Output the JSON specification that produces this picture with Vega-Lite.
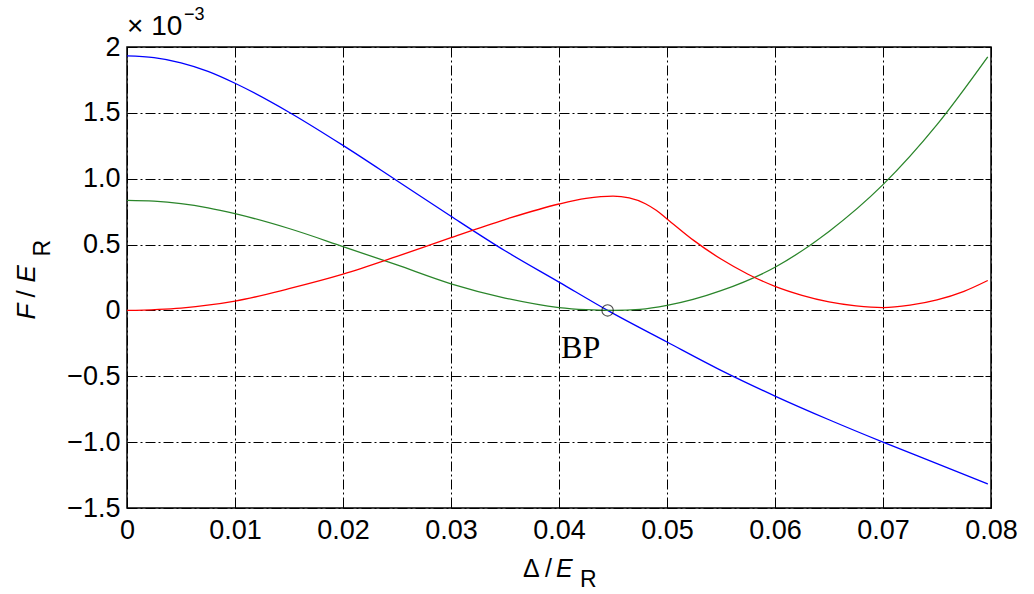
{
  "$schema": "https://vega.github.io/schema/vega-lite/v6.json",
  "width": 864,
  "height": 461,
  "autosize": {"type": "none"},
  "padding": {"left": 127, "top": 47, "right": 43, "bottom": 86},
  "background": "white",
  "config": {
    "view": {"stroke": "black", "strokeWidth": 1.5},
    "font": "Liberation Sans"
  },
  "datasets": {
    "curves": [
      {"s": "a", "d": 0, "v": 1.932},
      {"s": "a", "d": 0.0025, "v": 1.919},
      {"s": "a", "d": 0.005, "v": 1.88},
      {"s": "a", "d": 0.0075, "v": 1.815},
      {"s": "a", "d": 0.01, "v": 1.725},
      {"s": "a", "d": 0.015, "v": 1.505},
      {"s": "a", "d": 0.02, "v": 1.253},
      {"s": "a", "d": 0.025, "v": 0.985},
      {"s": "a", "d": 0.03, "v": 0.715},
      {"s": "a", "d": 0.035, "v": 0.453},
      {"s": "a", "d": 0.04, "v": 0.215},
      {"s": "a", "d": 0.0445, "v": 0.0},
      {"s": "a", "d": 0.05, "v": -0.24},
      {"s": "a", "d": 0.055, "v": -0.455},
      {"s": "a", "d": 0.06, "v": -0.65},
      {"s": "a", "d": 0.065, "v": -0.83},
      {"s": "a", "d": 0.07, "v": -1.0},
      {"s": "a", "d": 0.075, "v": -1.163},
      {"s": "a", "d": 0.0797, "v": -1.318},
      {"s": "b", "d": 0, "v": 0.836},
      {"s": "b", "d": 0.0025, "v": 0.83},
      {"s": "b", "d": 0.005, "v": 0.811},
      {"s": "b", "d": 0.0075, "v": 0.779},
      {"s": "b", "d": 0.01, "v": 0.735},
      {"s": "b", "d": 0.015, "v": 0.622},
      {"s": "b", "d": 0.02, "v": 0.485},
      {"s": "b", "d": 0.025, "v": 0.345},
      {"s": "b", "d": 0.03, "v": 0.202},
      {"s": "b", "d": 0.035, "v": 0.094},
      {"s": "b", "d": 0.04, "v": 0.022},
      {"s": "b", "d": 0.0425, "v": 0.006},
      {"s": "b", "d": 0.045, "v": 0.0},
      {"s": "b", "d": 0.0475, "v": 0.008},
      {"s": "b", "d": 0.05, "v": 0.038},
      {"s": "b", "d": 0.055, "v": 0.15},
      {"s": "b", "d": 0.06, "v": 0.328},
      {"s": "b", "d": 0.065, "v": 0.6},
      {"s": "b", "d": 0.07, "v": 0.955},
      {"s": "b", "d": 0.075, "v": 1.41},
      {"s": "b", "d": 0.0797, "v": 1.925},
      {"s": "c", "d": 0, "v": 0.0},
      {"s": "c", "d": 0.005, "v": 0.018},
      {"s": "c", "d": 0.01, "v": 0.07},
      {"s": "c", "d": 0.015, "v": 0.165},
      {"s": "c", "d": 0.02, "v": 0.275},
      {"s": "c", "d": 0.025, "v": 0.41},
      {"s": "c", "d": 0.03, "v": 0.553},
      {"s": "c", "d": 0.035, "v": 0.69},
      {"s": "c", "d": 0.04, "v": 0.808},
      {"s": "c", "d": 0.0425, "v": 0.85},
      {"s": "c", "d": 0.045, "v": 0.868},
      {"s": "c", "d": 0.0465, "v": 0.855},
      {"s": "c", "d": 0.048, "v": 0.81},
      {"s": "c", "d": 0.049, "v": 0.76},
      {"s": "c", "d": 0.05, "v": 0.695},
      {"s": "c", "d": 0.0525, "v": 0.53},
      {"s": "c", "d": 0.055, "v": 0.39},
      {"s": "c", "d": 0.0575, "v": 0.275},
      {"s": "c", "d": 0.06, "v": 0.183},
      {"s": "c", "d": 0.0625, "v": 0.115},
      {"s": "c", "d": 0.065, "v": 0.065},
      {"s": "c", "d": 0.0675, "v": 0.035},
      {"s": "c", "d": 0.07, "v": 0.022},
      {"s": "c", "d": 0.0725, "v": 0.04},
      {"s": "c", "d": 0.075, "v": 0.08},
      {"s": "c", "d": 0.0775, "v": 0.145},
      {"s": "c", "d": 0.0797, "v": 0.227}
    ],
    "bp": [{"d": 0.0445, "v": 0, "label": "BP"}],
    "corner": [{"d": 0, "v": 2, "base": "× 10", "exp": "−3"}],
    "ytitle": [{"d": 0, "v": 0, "f": "F", "sl": "/", "e": "E", "r": "R"}],
    "xtitle": [{"d": 0.04, "v": -1.5, "f": "Δ", "sl": "/", "e": "E", "r": "R"}]
  },
  "layer": [
    {
      "data": {"name": "curves"},
      "mark": {"type": "line", "strokeWidth": 1.3, "interpolate": "monotone", "clip": false},
      "encoding": {
        "x": {
          "field": "d", "type": "quantitative",
          "scale": {"domain": [0, 0.08], "nice": false, "zero": false},
          "axis": {
            "orient": "bottom", "title": null, "domain": false,
            "values": [0, 0.01, 0.02, 0.03, 0.04, 0.05, 0.06, 0.07, 0.08],
            "labelExpr": "datum.value == 0 ? '0' : format(datum.value, '.2f')",
            "labelFontSize": 27, "labelColor": "black", "labelPadding": 15,
            "labelFlush": false,
            "tickSize": -6, "tickColor": "black", "tickWidth": 1,
            "grid": true, "gridColor": "black", "gridOpacity": 1, "gridWidth": 1,
            "gridDash": [10, 3, 2, 3]
          }
        },
        "y": {
          "field": "v", "type": "quantitative",
          "scale": {"domain": [-1.5, 2], "nice": false, "zero": false},
          "axis": {
            "orient": "left", "title": null, "domain": false,
            "values": [-1.5, -1, -0.5, 0, 0.5, 1, 1.5, 2],
            "labelExpr": "datum.value == 0 ? '0' : datum.value == 2 ? '2' : format(datum.value, '.1f')",
            "labelFontSize": 27, "labelColor": "black", "labelPadding": 13,
            "labelFlush": false,
            "tickSize": -6, "tickColor": "black", "tickWidth": 1,
            "grid": true, "gridColor": "black", "gridOpacity": 1, "gridWidth": 1,
            "gridDash": [10, 3, 2, 3]
          }
        },
        "color": {
          "field": "s", "type": "nominal",
          "scale": {"domain": ["a", "b", "c"], "range": ["#0000ff", "#2a852a", "#ff0000"]},
          "legend": null
        }
      }
    },
    {
      "data": {"name": "bp"},
      "mark": {"type": "point", "shape": "circle", "filled": false, "size": 130, "stroke": "black", "strokeWidth": 1.1},
      "encoding": {
        "x": {
          "field": "d", "type": "quantitative",
          "scale": {"domain": [0, 0.08], "nice": false, "zero": false},
          "axis": {
            "orient": "top", "title": null, "domain": false, "labels": false, "grid": false,
            "values": [0, 0.01, 0.02, 0.03, 0.04, 0.05, 0.06, 0.07, 0.08],
            "tickSize": -6, "tickColor": "black", "tickWidth": 1
          }
        },
        "y": {
          "field": "v", "type": "quantitative",
          "scale": {"domain": [-1.5, 2], "nice": false, "zero": false},
          "axis": {
            "orient": "right", "title": null, "domain": false, "labels": false, "grid": false,
            "values": [-1.5, -1, -0.5, 0, 0.5, 1, 1.5, 2],
            "tickSize": -6, "tickColor": "black", "tickWidth": 1
          }
        }
      }
    },
    {
      "data": {"name": "bp"},
      "mark": {"type": "text", "font": "Liberation Serif", "fontSize": 32, "align": "center", "baseline": "alphabetic", "dx": -27, "dy": 48, "color": "black"},
      "encoding": {
        "x": {"field": "d", "type": "quantitative", "scale": {"domain": [0, 0.08], "nice": false, "zero": false}, "axis": null},
        "y": {"field": "v", "type": "quantitative", "scale": {"domain": [-1.5, 2], "nice": false, "zero": false}, "axis": null},
        "text": {"field": "label"}
      }
    },
    {
      "data": {"name": "corner"},
      "mark": {"type": "text", "fontSize": 28, "align": "left", "baseline": "alphabetic", "dx": 0, "dy": -12, "color": "black"},
      "encoding": {
        "x": {"field": "d", "type": "quantitative", "scale": {"domain": [0, 0.08], "nice": false, "zero": false}, "axis": null},
        "y": {"field": "v", "type": "quantitative", "scale": {"domain": [-1.5, 2], "nice": false, "zero": false}, "axis": null},
        "text": {"field": "base"}
      }
    },
    {
      "data": {"name": "corner"},
      "mark": {"type": "text", "fontSize": 18, "align": "left", "baseline": "alphabetic", "dx": 57, "dy": -27, "color": "black"},
      "encoding": {
        "x": {"field": "d", "type": "quantitative", "scale": {"domain": [0, 0.08], "nice": false, "zero": false}, "axis": null},
        "y": {"field": "v", "type": "quantitative", "scale": {"domain": [-1.5, 2], "nice": false, "zero": false}, "axis": null},
        "text": {"field": "exp"}
      }
    },
    {
      "data": {"name": "ytitle"},
      "mark": {"type": "text", "fontSize": 26, "fontStyle": "italic", "angle": 270, "align": "left", "baseline": "alphabetic", "dx": -9, "dy": -92, "color": "black"},
      "encoding": {
        "x": {"field": "d", "type": "quantitative", "scale": {"domain": [0, 0.08], "nice": false, "zero": false}, "axis": null},
        "y": {"field": "v", "type": "quantitative", "scale": {"domain": [-1.5, 2], "nice": false, "zero": false}, "axis": null},
        "text": {"field": "f"}
      }
    },
    {
      "data": {"name": "ytitle"},
      "mark": {"type": "text", "fontSize": 26, "angle": 270, "align": "left", "baseline": "alphabetic", "dx": 13, "dy": -92, "color": "black"},
      "encoding": {
        "x": {"field": "d", "type": "quantitative", "scale": {"domain": [0, 0.08], "nice": false, "zero": false}, "axis": null},
        "y": {"field": "v", "type": "quantitative", "scale": {"domain": [-1.5, 2], "nice": false, "zero": false}, "axis": null},
        "text": {"field": "sl"}
      }
    },
    {
      "data": {"name": "ytitle"},
      "mark": {"type": "text", "fontSize": 26, "fontStyle": "italic", "angle": 270, "align": "left", "baseline": "alphabetic", "dx": 28, "dy": -92, "color": "black"},
      "encoding": {
        "x": {"field": "d", "type": "quantitative", "scale": {"domain": [0, 0.08], "nice": false, "zero": false}, "axis": null},
        "y": {"field": "v", "type": "quantitative", "scale": {"domain": [-1.5, 2], "nice": false, "zero": false}, "axis": null},
        "text": {"field": "e"}
      }
    },
    {
      "data": {"name": "ytitle"},
      "mark": {"type": "text", "fontSize": 23, "angle": 270, "align": "left", "baseline": "alphabetic", "dx": 54, "dy": -77, "color": "black"},
      "encoding": {
        "x": {"field": "d", "type": "quantitative", "scale": {"domain": [0, 0.08], "nice": false, "zero": false}, "axis": null},
        "y": {"field": "v", "type": "quantitative", "scale": {"domain": [-1.5, 2], "nice": false, "zero": false}, "axis": null},
        "text": {"field": "r"}
      }
    },
    {
      "data": {"name": "xtitle"},
      "mark": {"type": "text", "fontSize": 25, "align": "left", "baseline": "alphabetic", "dx": -36, "dy": 69, "color": "black"},
      "encoding": {
        "x": {"field": "d", "type": "quantitative", "scale": {"domain": [0, 0.08], "nice": false, "zero": false}, "axis": null},
        "y": {"field": "v", "type": "quantitative", "scale": {"domain": [-1.5, 2], "nice": false, "zero": false}, "axis": null},
        "text": {"field": "f"}
      }
    },
    {
      "data": {"name": "xtitle"},
      "mark": {"type": "text", "fontSize": 25, "align": "left", "baseline": "alphabetic", "dx": -14, "dy": 69, "color": "black"},
      "encoding": {
        "x": {"field": "d", "type": "quantitative", "scale": {"domain": [0, 0.08], "nice": false, "zero": false}, "axis": null},
        "y": {"field": "v", "type": "quantitative", "scale": {"domain": [-1.5, 2], "nice": false, "zero": false}, "axis": null},
        "text": {"field": "sl"}
      }
    },
    {
      "data": {"name": "xtitle"},
      "mark": {"type": "text", "fontSize": 25, "fontStyle": "italic", "align": "left", "baseline": "alphabetic", "dx": -3, "dy": 69, "color": "black"},
      "encoding": {
        "x": {"field": "d", "type": "quantitative", "scale": {"domain": [0, 0.08], "nice": false, "zero": false}, "axis": null},
        "y": {"field": "v", "type": "quantitative", "scale": {"domain": [-1.5, 2], "nice": false, "zero": false}, "axis": null},
        "text": {"field": "e"}
      }
    },
    {
      "data": {"name": "xtitle"},
      "mark": {"type": "text", "fontSize": 23, "align": "left", "baseline": "alphabetic", "dx": 21, "dy": 79, "color": "black"},
      "encoding": {
        "x": {"field": "d", "type": "quantitative", "scale": {"domain": [0, 0.08], "nice": false, "zero": false}, "axis": null},
        "y": {"field": "v", "type": "quantitative", "scale": {"domain": [-1.5, 2], "nice": false, "zero": false}, "axis": null},
        "text": {"field": "r"}
      }
    }
  ],
  "resolve": {"axis": {"x": "independent", "y": "independent"}}
}
